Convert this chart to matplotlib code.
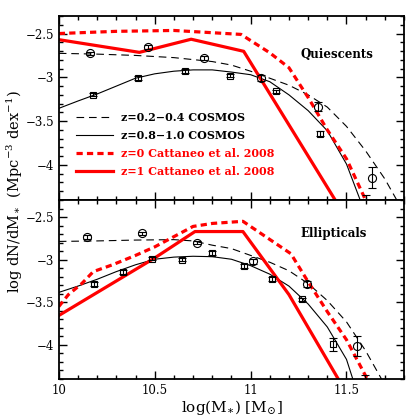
import matplotlib
matplotlib.use("Agg")
import matplotlib.pyplot as plt
from matplotlib.ticker import MultipleLocator

plt.rcParams["font.family"] = ["DejaVu Serif"]
plt.rcParams["mathtext.fontset"] = "dejavuserif"
plt.rcParams["lines.scale_dashes"] = False

# ---- Quiescents (top panel) ----
q_lo_x = [10.164, 10.463, 10.756, 11.055, 11.349, 11.632]
q_lo_y = [-2.726, -2.653, -2.779, -3.008, -3.335, -4.144]
q_lo_err = [0.02, 0.02, 0.02, 0.03, 0.05, 0.12]

q_hi_x = [10.178, 10.415, 10.658, 10.895, 11.132, 11.361, 11.603]
q_hi_y = [-3.198, -3.006, -2.925, -2.980, -3.161, -3.644, -4.56]
q_hi_err = [0.02, 0.02, 0.02, 0.02, 0.02, 0.03, 0.22]

q_fit_lo_x = [10.0, 10.2, 10.4, 10.6, 10.8, 10.9, 11.0, 11.1, 11.2, 11.3, 11.4, 11.5, 11.6, 11.7, 11.78]
q_fit_lo_y = [-2.726, -2.735, -2.75, -2.775, -2.82, -2.86, -2.93, -3.01, -3.09, -3.20, -3.34, -3.56, -3.84, -4.16, -4.47]

q_fit_hi_x = [10.0, 10.1, 10.2, 10.3, 10.4, 10.5, 10.6, 10.7, 10.8, 10.9, 11.0, 11.1, 11.2, 11.3, 11.4, 11.5, 11.58]
q_fit_hi_y = [-3.354, -3.27, -3.19, -3.10, -3.01, -2.96, -2.93, -2.915, -2.915, -2.94, -2.97, -3.05, -3.20, -3.38, -3.61, -3.99, -4.45]

q_cat0_x = [10.0, 10.3, 10.6, 10.95, 11.1, 11.2, 11.3, 11.4, 11.5, 11.61]
q_cat0_y = [-2.50, -2.475, -2.465, -2.51, -2.72, -2.89, -3.23, -3.60, -3.93, -4.45]

q_cat1_x = [10.0, 10.42, 10.69, 10.964, 11.455]
q_cat1_y = [-2.57, -2.715, -2.565, -2.703, -4.45]

# ---- Ellipticals (bottom panel) ----
e_lo_x = [10.147, 10.434, 10.719, 11.013, 11.295, 11.556]
e_lo_y = [-2.733, -2.690, -2.802, -3.019, -3.286, -4.015]
e_lo_err = [0.02, 0.02, 0.02, 0.03, 0.04, 0.12]

e_hi_x = [10.181, 10.333, 10.485, 10.644, 10.800, 10.964, 11.110, 11.269, 11.430, 11.594]
e_hi_y = [-3.283, -3.143, -2.988, -3.000, -2.922, -3.073, -3.228, -3.465, -3.995, -4.58]
e_hi_err = [0.025, 0.02, 0.02, 0.02, 0.02, 0.02, 0.02, 0.02, 0.08, 0.23]

e_fit_lo_x = [10.0, 10.2, 10.4, 10.6, 10.7, 10.8, 10.9, 11.0, 11.1, 11.2, 11.3, 11.4, 11.5, 11.6, 11.7]
e_fit_lo_y = [-2.786, -2.78, -2.77, -2.765, -2.78, -2.83, -2.87, -2.95, -3.03, -3.13, -3.28, -3.48, -3.73, -4.07, -4.47]

e_fit_hi_x = [10.0, 10.1, 10.2, 10.3, 10.4, 10.5, 10.6, 10.7, 10.8, 10.9, 11.0, 11.1, 11.2, 11.3, 11.4, 11.5, 11.54]
e_fit_hi_y = [-3.384, -3.31, -3.23, -3.14, -3.06, -2.995, -2.97, -2.96, -2.965, -2.995, -3.07, -3.17, -3.31, -3.52, -3.79, -4.17, -4.45]

e_cat0_x = [10.0, 10.05, 10.12, 10.18, 10.28, 10.4, 10.5, 10.6, 10.7, 10.8, 10.96, 11.21, 11.30, 11.40, 11.5, 11.62]
e_cat0_y = [-3.55, -3.41, -3.28, -3.14, -3.06, -2.95, -2.85, -2.73, -2.61, -2.575, -2.55, -2.93, -3.26, -3.61, -3.94, -4.45]

e_cat1_x = [10.0, 10.5, 10.71, 10.96, 11.2, 11.47]
e_cat1_y = [-3.655, -2.98, -2.67, -2.67, -3.41, -4.45]

labels = ["z=0.2\u22120.4 COSMOS", "z=0.8\u22121.0 COSMOS",
          "z=0 Cattaneo et al. 2008", "z=1 Cattaneo et al. 2008"]

fig = plt.figure(figsize=(4.2, 4.2), dpi=100)
ax1 = fig.add_axes([0.140, 0.5238, 0.822, 0.4381])
ax2 = fig.add_axes([0.140, 0.0976, 0.822, 0.4262])

dash = (5.5, 3.5)
panels = [
    (ax1, "Quiescents", 0.79, q_lo_x, q_lo_y, q_lo_err, q_hi_x, q_hi_y, q_hi_err,
     q_fit_lo_x, q_fit_lo_y, q_fit_hi_x, q_fit_hi_y, q_cat0_x, q_cat0_y, q_cat1_x, q_cat1_y),
    (ax2, "Ellipticals", 0.815, e_lo_x, e_lo_y, e_lo_err, e_hi_x, e_hi_y, e_hi_err,
     e_fit_lo_x, e_fit_lo_y, e_fit_hi_x, e_fit_hi_y, e_cat0_x, e_cat0_y, e_cat1_x, e_cat1_y),
]

for (ax, name, name_y, lx, ly, le, hx, hy, he,
     flx, fly, fhx, fhy, c0x, c0y, c1x, c1y) in panels:
    ax.plot(flx, fly, color="black", lw=0.8, dashes=dash, label=labels[0])
    ax.plot(fhx, fhy, color="black", lw=0.8, label=labels[1])
    ax.plot(c0x, c0y, color="red", lw=2.3, dashes=(4.5, 3.0), label=labels[2])
    ax.plot(c1x, c1y, color="red", lw=2.3, label=labels[3])
    ax.errorbar(lx, ly, yerr=le, fmt="o", ms=5.8, mfc="none", mec="black",
                mew=0.8, ecolor="black", elinewidth=0.8, capsize=3.2, capthick=0.8)
    ax.errorbar(hx, hy, yerr=he, fmt="s", ms=5.0, mfc="none", mec="black",
                mew=0.8, ecolor="black", elinewidth=0.8, capsize=3.2, capthick=0.8)

    ax.set_xlim(10, 11.8)
    ax.set_ylim(-4.4, -2.3)
    ax.xaxis.set_major_locator(MultipleLocator(0.5))
    ax.xaxis.set_minor_locator(MultipleLocator(0.1))
    ax.yaxis.set_major_locator(MultipleLocator(0.5))
    ax.yaxis.set_minor_locator(MultipleLocator(0.1))
    ax.tick_params(which="both", direction="in", top=True, right=True,
                   labelsize=8.5, width=1.0)
    ax.tick_params(which="major", length=6)
    ax.tick_params(which="minor", length=3)
    for sp in ax.spines.values():
        sp.set_linewidth(1.3)
    ax.yaxis.set_major_formatter(plt.FuncFormatter(
        lambda v, p: ("%g" % v).replace("-", "\u2212")))
    ax.text(0.70, name_y, name, transform=ax.transAxes,
            fontsize=8.5, fontweight="bold", ha="left", va="center")

ax1.tick_params(labelbottom=False)
ax2.xaxis.set_major_formatter(plt.FuncFormatter(lambda v, p: "%g" % v))

leg = ax1.legend(loc="upper left", bbox_to_anchor=(0.05, 0.48), frameon=False,
                 handlelength=3.3, handletextpad=0.7,
                 labelspacing=0.65, borderpad=0, borderaxespad=0,
                 labelcolor="linecolor", prop={"weight": "bold", "size": 8})

ax2.set_xlabel(r"log(M$_{\ast}$) [M$_{\odot}$]", fontsize=11, labelpad=1)
fig.text(0.036, 0.543, r"log dN/dM$_{\ast}$  (Mpc$^{-3}$ dex$^{-1}$)",
         rotation=90, ha="center", va="center", fontsize=10.5)

fig.savefig("out.png", dpi=100)
